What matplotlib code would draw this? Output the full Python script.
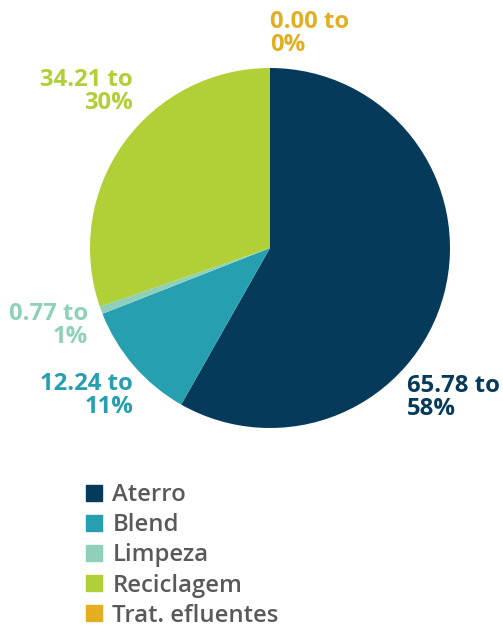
import matplotlib.pyplot as plt
from matplotlib.lines import Line2D

# dados
categorias = ["Aterro", "Blend", "Limpeza", "Reciclagem", "Trat. efluentes"]
valores = [65.78, 12.24, 0.77, 34.21, 0.00]
percentuais = ["58%", "11%", "1%", "30%", "0%"]
cores = ["#063a5b", "#26a0b0", "#8fd0bb", "#b1cf36", "#e4ae22"]

# posicao dos rotulos (unidades do raio) e alinhamento
pos_rotulos = [(0.76, -0.83, "left"), (-0.76, -0.82, "right"), (-1.01, -0.43, "right"),
               (-0.76, 0.87, "right"), (0.0, 1.19, "left")]

plt.rcParams["font.family"] = ["Open Sans", "DejaVu Sans"]

fig = plt.figure(figsize=(5.03, 6.3), dpi=100)
ax = fig.add_axes([90 / 503, 202 / 630, 360 / 503, 360 / 630])

ax.pie(valores, colors=cores, startangle=90, counterclock=False, radius=1,
       wedgeprops=dict(linewidth=0))
ax.set_xlim(-1, 1)
ax.set_ylim(-1, 1)
ax.set_aspect("equal")
ax.axis("off")

for v, p, c, (x, y, ha) in zip(valores, percentuais, cores, pos_rotulos):
    ax.text(x, y, f"{v:.2f} to\n{p}", color=c, fontsize=17.2, fontweight="bold",
            ha=ha, va="center", multialignment=ha, linespacing=0.93, clip_on=False)

handles = [Line2D([], [], marker="s", linestyle="", markersize=12, color=c) for c in cores]
leg = fig.legend(handles, categorias, loc="upper left", bbox_to_anchor=(85 / 503, 1 - 483 / 630),
                 frameon=False, fontsize=17.2, handlelength=0.75, handletextpad=0.4,
                 labelspacing=0.26, borderaxespad=0, borderpad=0)
for t in leg.get_texts():
    t.set_color("#595959")
    t.set_fontweight("semibold")

fig.savefig("out.png", dpi=100)
